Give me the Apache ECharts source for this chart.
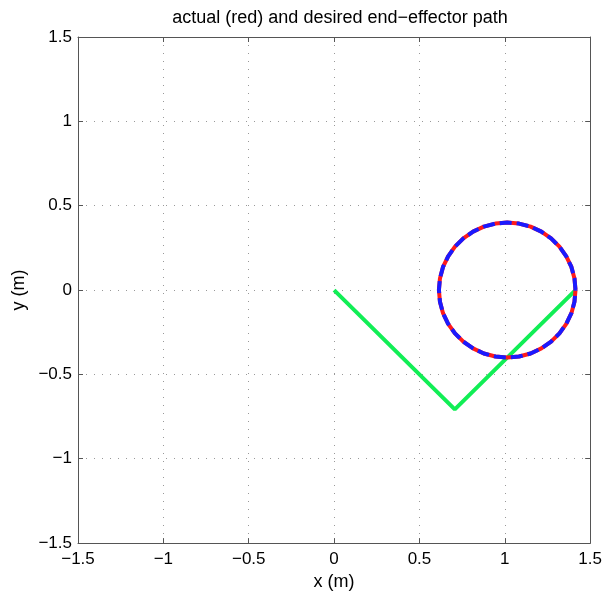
<!DOCTYPE html>
<html><head><meta charset="utf-8">
<script src="https://cdn.jsdelivr.net/npm/echarts@6/dist/echarts.min.js"></script>
<style>html,body{margin:0;padding:0;background:#fff}#c{width:605px;height:596px}</style>
</head><body><div id="c"></div>
<script>
var titleText = 'actual (red) and desired end\u2212effector path';
var xLabel = 'x (m)';
var yLabel = 'y (m)';
var tickValues = [-1.5, -1, -0.5, 0, 0.5, 1, 1.5];

// arm (green)
var armX = [0, 0.707, 1.414];
var armY = [0, -0.707, 0];

// desired path (blue)
var desiredX = [1.414,1.408,1.390,1.360,1.320,1.271,1.214,1.151,1.083,1.014,0.945,0.877,0.814,0.757,0.708,0.668,0.638,0.620,0.614,0.620,0.638,0.668,0.708,0.757,0.814,0.877,0.945,1.014,1.083,1.151,1.214,1.271,1.320,1.360,1.390,1.408,1.414];
var desiredY = [0,0.069,0.137,0.200,0.257,0.306,0.346,0.376,0.394,0.400,0.394,0.376,0.346,0.306,0.257,0.200,0.137,0.069,0,-0.069,-0.137,-0.200,-0.257,-0.306,-0.346,-0.376,-0.394,-0.400,-0.394,-0.376,-0.346,-0.306,-0.257,-0.200,-0.137,-0.069,0];
// actual path (red)
var actualX = [1.414,1.408,1.390,1.360,1.320,1.271,1.214,1.151,1.083,1.014,0.945,0.877,0.814,0.757,0.708,0.668,0.638,0.620,0.614,0.620,0.638,0.668,0.708,0.757,0.814,0.877,0.945,1.014,1.083,1.151,1.214,1.271,1.320,1.360,1.390,1.408,1.414];
var actualY = [0,0.069,0.137,0.200,0.257,0.306,0.346,0.376,0.394,0.400,0.394,0.376,0.346,0.306,0.257,0.200,0.137,0.069,0,-0.069,-0.137,-0.200,-0.257,-0.306,-0.346,-0.376,-0.394,-0.400,-0.394,-0.376,-0.346,-0.306,-0.257,-0.200,-0.137,-0.069,0];

function pairs(xs, ys){ return xs.map(function(x,i){ return [x, ys[i]]; }); }
function fmt(v){ return String(v).replace('-', '\u2212'); }

var FONT = 'Liberation Sans';
var AX = '#555';
var chart = echarts.init(document.getElementById('c'), null, {renderer:'canvas'});
var lo = tickValues[0], hi = tickValues[tickValues.length-1], step = tickValues[1]-tickValues[0];
function axisBase(extra){
  var a = {
    type:'value', min:lo, max:hi, interval:step,
    axisLine:{show:true, onZero:false, lineStyle:{color:AX, width:1}},
    axisTick:{show:true, inside:true, length:5, lineStyle:{color:AX}},
    axisLabel:{show:true, color:'#000', fontFamily:FONT, fontSize:17, formatter:fmt},
    splitLine:{show:false}
  };
  for (var k in extra) a[k] = extra[k];
  return a;
}
var grid = {left:78, right:14, top:37, bottom:47, containLabel:false, show:false};
chart.setOption({
  animation:false,
  backgroundColor:'#fff',
  title:{text:titleText, top:4, left:335, textAlign:'center', textStyle:{fontFamily:FONT, fontSize:18, fontWeight:'normal', color:'#000'}},
  grid:grid,
  xAxis:[
    axisBase({position:'bottom', name:xLabel, nameLocation:'middle', nameGap:28, nameTextStyle:{fontFamily:FONT, fontSize:18, color:'#000'},
      axisLabel:{color:'#000', fontFamily:FONT, fontSize:17, formatter:fmt, margin:8},
      splitLine:{show:true, lineStyle:{color:'#999', width:1, type:[1,7]}}}),
    axisBase({position:'top', axisLabel:{show:false}})
  ],
  yAxis:[
    axisBase({position:'left', name:yLabel, nameLocation:'middle', nameGap:48, nameRotate:90, nameTextStyle:{fontFamily:FONT, fontSize:18, color:'#000'},
      axisLabel:{color:'#000', fontFamily:FONT, fontSize:17, formatter:fmt, margin:6},
      splitLine:{show:true, lineStyle:{color:'#999', width:1, type:[1,7]}}}),
    axisBase({position:'right', axisLabel:{show:false}})
  ],
  series:[
    {type:'line', data:pairs(armX, armY), showSymbol:false, symbol:'none', lineStyle:{color:'#11ee55', width:4}, itemStyle:{color:'#11ee55'}, z:2},
    {type:'line', data:pairs(actualX, actualY), showSymbol:false, symbol:'none', lineStyle:{color:'#ff1a1a', width:4}, itemStyle:{color:'#ff1a1a'}, z:3},
    {type:'line', data:pairs(desiredX, desiredY), showSymbol:false, symbol:'none', lineStyle:{color:'#1a1aff', width:4, type:[12,5]}, itemStyle:{color:'#1a1aff'}, z:4}
  ]
});
</script></body></html>
